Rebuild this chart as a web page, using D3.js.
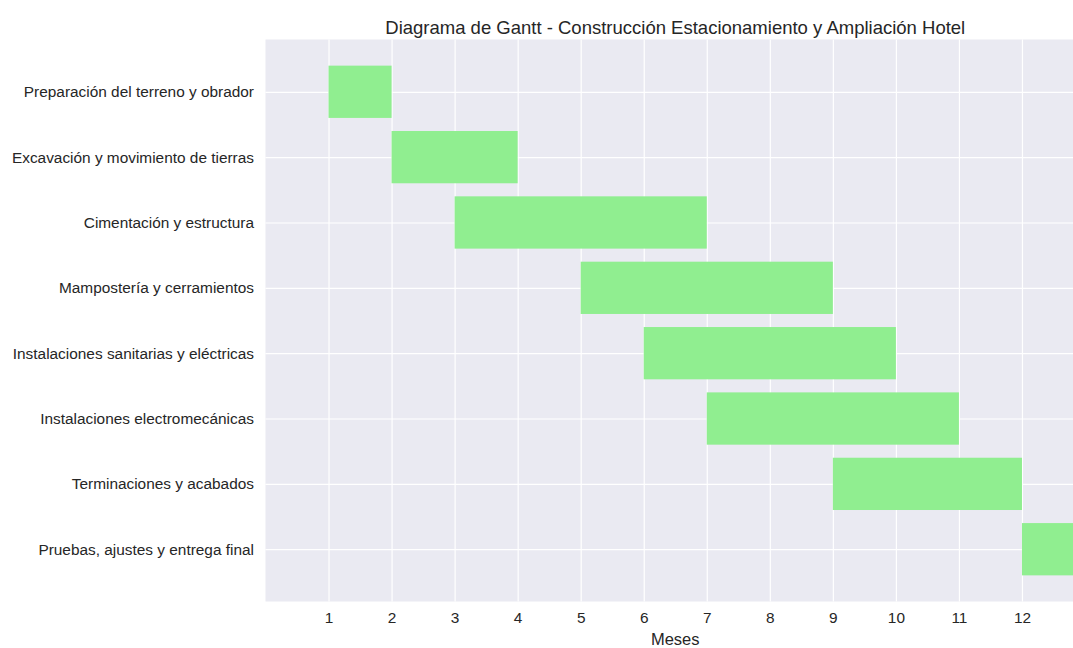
<!DOCTYPE html>
<html>
<head>
<meta charset="utf-8">
<script src="https://cdn.jsdelivr.net/npm/d3@7"></script>
<style>
  body { margin: 0; background: #fff; }
  svg text { font-family: "Liberation Sans", Arial, sans-serif; fill: #262626; }
  .title { font-size: 18.5px; }
  .tick text { font-size: 15.4px; }
  .axis-label { font-size: 16.5px; }
</style>
</head>
<body>
<svg width="1073" height="648"></svg>
<script>
const tasks = [
  'Preparación del terreno y obrador',
  'Excavación y movimiento de tierras',
  'Cimentación y estructura',
  'Mampostería y cerramientos',
  'Instalaciones sanitarias y eléctricas',
  'Instalaciones electromecánicas',
  'Terminaciones y acabados',
  'Pruebas, ajustes y entrega final'
];
const starts = [1, 2, 3, 5, 6, 7, 9, 12];
const durations = [1, 2, 4, 4, 4, 4, 3, 1];
const monthTicks = [1, 2, 3, 4, 5, 6, 7, 8, 9, 10, 11, 12];

const svg = d3.select('svg');
const width = +svg.attr('width');
const height = +svg.attr('height');

const margin = {top: 39.5, left: 265.5};
// the axes run a bit past the right edge of the picture
const plotRight = 1085;
const plotBottom = 601.5;
const fullWidth = plotRight - margin.left;
const innerWidth = width - margin.left;
const innerHeight = plotBottom - margin.top;

const xScale = d3.scaleLinear()
  .domain([0, 13])
  .range([0, fullWidth]);

const yScale = d3.scaleLinear()
  .domain([-0.8, tasks.length - 0.2])
  .range([0, innerHeight]);

const barHeight = yScale(0.8) - yScale(0);

svg.append('defs').append('clipPath')
  .attr('id', 'plot-clip')
  .append('rect')
    .attr('width', innerWidth)
    .attr('height', innerHeight);

const g = svg.append('g')
  .attr('transform', `translate(${margin.left}, ${margin.top})`);

g.append('rect')
  .attr('width', innerWidth)
  .attr('height', innerHeight)
  .attr('fill', '#EAEAF2');

const xAxis = d3.axisBottom(xScale)
  .tickValues(monthTicks)
  .tickSize(-innerHeight)
  .tickPadding(10.5);

const xAxisG = g.append('g')
  .attr('transform', `translate(0, ${innerHeight})`)
  .call(xAxis);
xAxisG.select('.domain').remove();
xAxisG.selectAll('.tick line').attr('stroke', '#fff').attr('stroke-width', 1.2);

const yAxis = d3.axisLeft(yScale)
  .tickValues(d3.range(tasks.length))
  .tickFormat(i => tasks[i])
  .tickSize(-innerWidth)
  .tickPadding(11.5);

const yAxisG = g.append('g').call(yAxis);
yAxisG.select('.domain').remove();
yAxisG.selectAll('.tick line').attr('stroke', '#fff').attr('stroke-width', 1.2);

g.append('g')
  .attr('clip-path', 'url(#plot-clip)')
  .selectAll('rect').data(tasks)
  .enter().append('rect')
    .attr('x', (d, i) => xScale(starts[i]))
    .attr('y', (d, i) => yScale(i) - barHeight / 2)
    .attr('width', (d, i) => xScale(starts[i] + durations[i]) - xScale(starts[i]))
    .attr('height', barHeight)
    .attr('fill', '#90EE90');

g.append('text')
  .attr('class', 'axis-label')
  .attr('x', fullWidth / 2)
  .attr('y', innerHeight + 43.5)
  .attr('text-anchor', 'middle')
  .text('Meses');

g.append('text')
  .attr('class', 'title')
  .attr('x', fullWidth / 2)
  .attr('y', -6)
  .attr('text-anchor', 'middle')
  .text('Diagrama de Gantt - Construcción Estacionamiento y Ampliación Hotel');
</script>
</body>
</html>
